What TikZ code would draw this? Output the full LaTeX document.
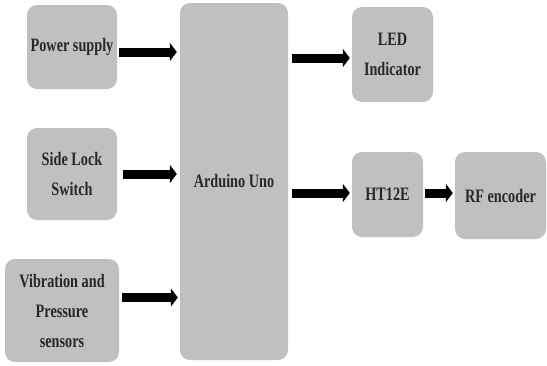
\documentclass[tikz,border=0pt]{standalone}
\usepackage{fontspec}
\setmainfont{Liberation Serif}[FakeStretch=0.75]
\usetikzlibrary{arrows.meta}
\definecolor{boxgray}{RGB}{192,192,192}
\definecolor{textgray}{RGB}{40,40,40}
\tikzset{
  block/.style={fill=boxgray, rounded corners=10pt, align=center, inner sep=0pt,
    text=textgray, font=\fontsize{19}{30}\selectfont\bfseries},
  pfeil/.style={line width=9pt, -{Triangle[length=7pt,width=18pt]}}
}
\begin{document}
\begin{tikzpicture}[x=1pt,y=-1pt]
  \useasboundingbox (0,0) rectangle (547,365);
  % Bloecke
  \node [block, minimum width=90pt, minimum height=84pt] (power) at (72,47) {Power supply};
  \node [block, minimum width=90pt, minimum height=92pt] (lock) at (72,174) {Side Lock\\Switch};
  \node [block, minimum width=114pt, minimum height=103pt] (vib) at (62,310.5) {Vibration and\\Pressure\\sensors};
  \node [block, minimum width=108pt, minimum height=357pt] (ard) at (234,181.5) {Arduino Uno};
  \node [block, minimum width=81pt, minimum height=95pt] (led) at (392.5,54.5) {LED\\Indicator};
  \node [block, minimum width=71pt, minimum height=85pt] (ht) at (387.5,194.5) {HT12E};
  \node [block, minimum width=91pt, minimum height=87pt] (rf) at (500.5,195.5) {RF encoder};
  % Pfeile
  \draw [pfeil] ([shift={(2pt,-5pt)}]power.east) -- ([shift={(-3pt,-5pt)}]power.east -| ard.west);
  \draw [pfeil] ([xshift=6pt]lock.east) -- ([xshift=-3pt]lock.east -| ard.west);
  \draw [pfeil] ([shift={(3pt,13pt)}]vib.east) -- ([shift={(-2pt,13pt)}]vib.east -| ard.west);
  \draw [pfeil] ([shift={(4pt,-3.5pt)}]ard.east |- led.west) -- ([shift={(-2pt,-3.5pt)}]led.west);
  \draw [pfeil] ([shift={(4pt,1.5pt)}]ard.east |- ht.west) -- ([shift={(-2pt,1.5pt)}]ht.west);
  \draw [pfeil] ([shift={(2pt,1.5pt)}]ht.east) -- ([shift={(-2pt,1.5pt)}]ht.east -| rf.west);
\end{tikzpicture}
\end{document}
